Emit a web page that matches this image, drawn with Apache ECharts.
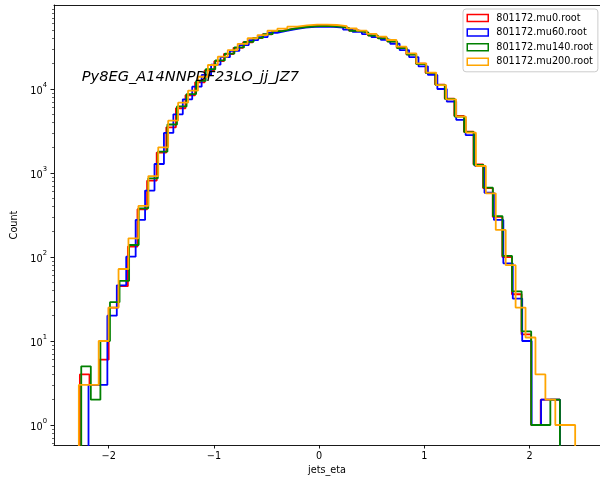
<!DOCTYPE html>
<html><head><meta charset="utf-8">
<script src="https://cdn.jsdelivr.net/npm/echarts@6/dist/echarts.min.js"></script>
<style>html,body{margin:0;padding:0;background:#fff}#c{width:600px;height:481px}</style>
</head><body><div id="c"></div>
<script>
// ---- data ----
const seriesNames = ['801172.mu0.root', '801172.mu60.root', '801172.mu140.root', '801172.mu200.root'];
const seriesColors = ['#ff0000', '#0000ff', '#008000', '#ffa500'];
// histogram range (eta) of each file; 50 equal bins each
const rangeMu0 = [-2.274, 2.289];
const rangeMu60 = [-2.192, 2.289];
const rangeMu140 = [-2.261, 2.289];
const rangeMu200 = [-2.284, 2.434];
const countsMu0 = [4, 3, 6, 25, 45, 133, 370, 810, 1750, 3500, 5900, 8420, 12000, 16700, 21450, 26100, 30900, 36000, 40400, 44600, 48800, 51500, 53900, 55500, 56300, 56200, 55500, 53500, 49700, 47300, 43400, 40400, 36900, 31000, 25900, 20100, 15600, 11300, 7700, 4800, 3100, 1270, 660, 300, 100, 36, 12, 1, 2, 2];
const countsMu60 = [3, 3, 20, 46, 101, 276, 617, 1280, 3000, 5000, 7540, 10650, 14700, 19500, 23910, 28400, 33300, 38220, 41530, 46600, 49210, 51800, 53870, 54990, 55250, 54900, 53870, 50980, 47900, 45110, 41620, 38580, 34550, 29060, 23990, 18630, 14700, 10000, 7100, 4300, 2830, 1210, 582, 276, 84, 32, 10, 1, 2, 2];
const countsMu140 = [5, 2, 10, 29, 52, 139, 380, 865, 1795, 3780, 6200, 8700, 12480, 17190, 21880, 26440, 31270, 36400, 40660, 45000, 48870, 51540, 53970, 55490, 56100, 56030, 55230, 53110, 49340, 46900, 43100, 40100, 36650, 30700, 25660, 19830, 15530, 11200, 7600, 4700, 3070, 1250, 668, 307, 103, 39, 13, 1, 1, 2];
const countsMu200 = [3, 3, 10, 25, 72, 167, 405, 920, 2020, 4200, 6870, 9550, 14000, 19300, 24250, 29100, 34500, 40200, 43900, 49400, 52200, 55200, 57300, 58300, 58300, 57800, 56000, 52800, 49600, 45200, 42000, 38300, 31900, 26500, 20200, 15700, 11150, 7540, 4680, 3020, 1211, 573, 210, 80, 25, 11, 4, 2, 1, 1];
const xTicks = [-2, -1, 0, 1, 2];
const yMajorTicks = [1, 10, 100, 1000, 10000];
const yMinorTicks = [0.6, 0.7, 0.8, 0.9, 2, 3, 4, 5, 6, 7, 8, 9, 20, 30, 40, 50, 60, 70, 80, 90, 200, 300, 400, 500, 600, 700, 800, 900, 2000, 3000, 4000, 5000, 6000, 7000, 8000, 9000, 20000, 30000, 40000, 50000, 60000, 70000, 80000, 90000];
const titleText = 'Py8EG_A14NNPDF23LO_jj_JZ7';
const xLabel = 'jets_eta';
const yLabel = 'Count';

// ---- build ----
const FONT = 'DejaVu Sans';
const FLOOR = 0.01;
const X_MIN = -2.52, X_MAX = 2.67, Y_MIN = 0.578, Y_MAX = 100000;
function stepPoints(range, counts) {
  const n = counts.length, w = (range[1] - range[0]) / n;
  const pts = [[range[0], FLOOR]];
  for (let i = 0; i < n; i++) pts.push([range[0] + i * w, counts[i]]);
  pts.push([range[1], counts[n - 1]]);
  pts.push([range[1], FLOOR]);
  return pts;
}
const ranges = [rangeMu0, rangeMu60, rangeMu140, rangeMu200];
const counts = [countsMu0, countsMu60, countsMu140, countsMu200];

const chart = echarts.init(document.getElementById('c'), null, {renderer: 'canvas'});
const axisLineStyle = {color: '#000', width: 0.9};
chart.setOption({
  animation: false,
  backgroundColor: '#fff',
  textStyle: {fontFamily: FONT},
  title: {
    text: titleText, left: 81.7, top: 68.6, padding: 0,
    textStyle: {fontFamily: FONT, fontStyle: 'italic', fontWeight: 'normal', fontSize: 14.6, color: '#000', lineHeight: 18}
  },
  legend: {
    orient: 'vertical', left: 463, top: 9,
    padding: [3, 5, 4, 3.5],
    itemWidth: 21, itemHeight: 7, itemGap: 2.6,
    backgroundColor: 'rgba(255,255,255,0.8)', borderColor: '#cccccc', borderWidth: 1, borderRadius: 3,
    textStyle: {fontFamily: FONT, fontSize: 9.7, color: '#000', lineHeight: 12, padding: [0, 0, 0, 3]},
    data: seriesNames.map((n, i) => ({
      name: n, icon: 'rect',
      itemStyle: {color: 'rgba(255,255,255,0)', borderColor: seriesColors[i], borderWidth: 1.5}
    }))
  },
  grid: {left: 54, right: -2, top: 5, bottom: 36, containLabel: false},
  xAxis: [{
    type: 'value', min: X_MIN, max: X_MAX, position: 'bottom',
    name: xLabel, nameLocation: 'middle', nameGap: 18.5,
    nameTextStyle: {fontFamily: FONT, fontSize: 9.7, color: '#000'},
    axisLine: {show: true, onZero: false, lineStyle: axisLineStyle},
    axisTick: {show: true, length: 3.5, customValues: xTicks, lineStyle: axisLineStyle},
    axisLabel: {customValues: xTicks, margin: 6, fontFamily: FONT, fontSize: 9.7, color: '#000',
      formatter: v => (v < 0 ? '\u2212' + Math.abs(v) : String(v))},
    splitLine: {show: false}
  }, {
    type: 'value', min: X_MIN, max: X_MAX, position: 'top',
    axisLine: {show: true, onZero: false, lineStyle: axisLineStyle},
    axisTick: {show: false}, axisLabel: {show: false}, splitLine: {show: false}
  }],
  yAxis: [{
    type: 'log', logBase: 10, min: Y_MIN, max: Y_MAX, position: 'left',
    name: yLabel, nameLocation: 'middle', nameGap: 30,
    nameTextStyle: {fontFamily: FONT, fontSize: 9.7, color: '#000'},
    axisLine: {show: true, onZero: false, lineStyle: axisLineStyle},
    axisTick: {show: true, length: 3.5, customValues: yMajorTicks, lineStyle: axisLineStyle},
    axisLabel: {
      customValues: yMajorTicks, margin: 7,
      formatter: v => '{b|10}{s|' + Math.round(Math.log10(v)) + '}',
      rich: {
        b: {fontFamily: FONT, fontSize: 9.7, color: '#000', lineHeight: 14, verticalAlign: 'bottom'},
        s: {fontFamily: FONT, fontSize: 6.8, color: '#000', lineHeight: 14, verticalAlign: 'top'}
      }
    },
    splitLine: {show: false}, minorTick: {show: false}
  }, {
    type: 'log', logBase: 10, min: Y_MIN, max: Y_MAX, position: 'left', offset: 0,
    axisLine: {show: false, onZero: false},
    axisTick: {show: true, length: 2, customValues: yMinorTicks, lineStyle: {color: '#000', width: 0.6}},
    axisLabel: {show: false}, splitLine: {show: false}
  }],
  series: seriesNames.map((n, i) => ({
    name: n, type: 'line', step: 'end', xAxisIndex: 0, yAxisIndex: 0,
    data: stepPoints(ranges[i], counts[i]),
    symbol: 'none', showSymbol: false, clip: true,
    lineStyle: {color: seriesColors[i], width: 1.8},
    itemStyle: {color: seriesColors[i]},
    z: 2 + i
  }))
});
</script>
</body></html>
